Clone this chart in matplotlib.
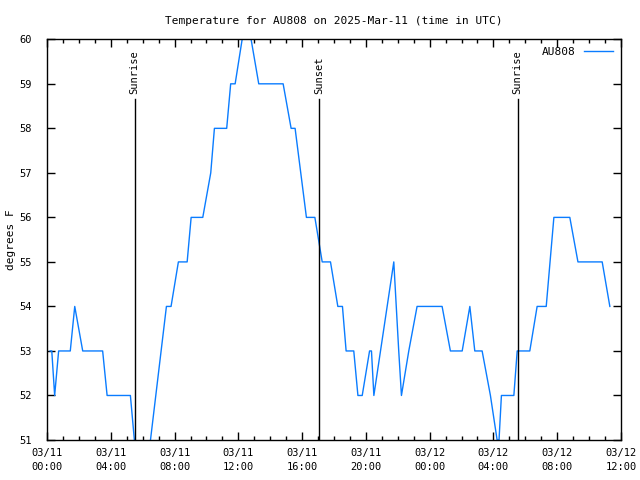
import matplotlib
matplotlib.use("Agg")
import matplotlib.pyplot as plt

# hours since 2025-03-11 00:00 UTC and temperature (F)
horas = [0.2, 0.3, 0.48, 0.73, 1.46, 1.74, 2.24, 3.49, 3.77, 5.23, 5.48, 5.75, 6.2,
         6.49, 7.49, 7.78, 8.24, 8.79, 9.04, 9.77, 10.27, 10.5, 11.27, 11.52, 11.8,
         12.24, 12.5, 12.8, 13.28, 14.81, 15.31, 15.56, 16.27, 16.8, 17.26, 17.78,
         18.24, 18.53, 18.76, 19.24, 19.5, 19.77, 20.23, 20.35, 20.5, 21.75, 22.06,
         22.23, 22.69, 23.21, 24.78, 25.3, 26.04, 26.52, 26.83, 27.29, 27.81, 28.23,
         28.35, 28.5, 29.28, 29.49, 30.28, 30.74, 31.31, 31.79, 32.79, 33.3, 34.82, 35.3]
temps = [53, 53, 52, 53, 53, 54, 53, 53, 52, 52, 51, 50, 50,
         51, 54, 54, 55, 55, 56, 56, 57, 58, 58, 59, 59,
         60, 61, 60, 59, 59, 58, 58, 56, 56, 55, 55,
         54, 54, 53, 53, 52, 52, 53, 53, 52, 55, 53,
         52, 53, 54, 54, 53, 53, 54, 53, 53, 52, 51,
         51, 52, 52, 53, 53, 54, 54, 56, 56, 55, 55, 54]

eventos = ["Sunrise", "Sunset", "Sunrise"]
eventos_horas = [5.5, 17.08, 29.52]

ticks_x = [0, 4, 8, 12, 16, 20, 24, 28, 32, 36]
labels_x = ["03/11\n00:00", "03/11\n04:00", "03/11\n08:00", "03/11\n12:00", "03/11\n16:00",
            "03/11\n20:00", "03/12\n00:00", "03/12\n04:00", "03/12\n08:00", "03/12\n12:00"]
ticks_y = [51, 52, 53, 54, 55, 56, 57, 58, 59, 60]

plt.rcParams['font.family'] = 'DejaVu Sans Mono'
plt.rcParams['font.size'] = 8

fig = plt.figure(figsize=(6.4, 4.8), dpi=100)
ax = fig.add_axes([47/640, 40/480, 574/640, 400.7/480])

ax.plot(horas, temps, color="#0a7cff", linewidth=1, label="AU808")

for nome, h in zip(eventos, eventos_horas):
    ax.plot([h, h], [51, 58.67], color="black", linewidth=1)
    ax.text(h, 58.78, nome, rotation=90, ha="center", va="bottom", fontsize=7.5)

ax.set_xlim(0, 36)
ax.set_ylim(51, 60)
ax.set_xticks(ticks_x)
ax.set_xticklabels(labels_x, fontsize=7.5, linespacing=1.45)
ax.set_xticks(range(0, 37), minor=True)
ax.set_yticks(ticks_y)
ax.set_yticklabels([str(v) for v in ticks_y], fontsize=7.5)
ax.tick_params(which="both", direction="in", top=True, right=True, width=1)
ax.tick_params(which="major", length=6)
ax.tick_params(axis="x", which="major", pad=6)
ax.tick_params(axis="y", which="major", pad=11)
ax.tick_params(which="minor", length=3)
for s in ax.spines.values():
    s.set_linewidth(1)

ax.set_ylabel("degrees F", labelpad=2)
ax.set_title("Temperature for AU808 on 2025-Mar-11 (time in UTC)", fontsize=8, pad=11)
leg = ax.legend(loc="upper right", frameon=False, markerfirst=False, handlelength=2.6,
                borderaxespad=0.3, fontsize=8)

fig.savefig("out.png", dpi=100)
